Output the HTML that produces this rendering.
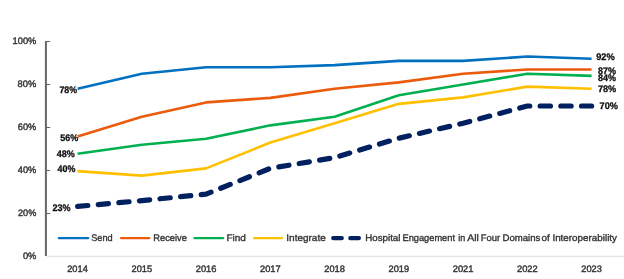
<!DOCTYPE html>
<html><head><meta charset="utf-8"><style>
html,body{margin:0;padding:0;background:#fff;width:624px;height:279px;overflow:hidden}
svg{display:block;will-change:transform;text-rendering:geometricPrecision}
text{font-family:"Liberation Sans", sans-serif;}
.ax{fill:#333;stroke:#333;stroke-width:0.4px}
.lb{font-weight:bold;fill:#111;stroke:#111;stroke-width:0.3px}
.lg{fill:#333;stroke:#333;stroke-width:0.35px}
</style></head><body>
<svg width="624" height="279" viewBox="0 0 624 279">
<line x1="45.9" y1="41.00" x2="45.9" y2="256" stroke="#666" stroke-width="2"/>
<line x1="45" y1="41.50" x2="50.2" y2="41.50" stroke="#666" stroke-width="1.1"/>
<line x1="45" y1="84.50" x2="50.2" y2="84.50" stroke="#666" stroke-width="1.1"/>
<line x1="45" y1="127.50" x2="50.2" y2="127.50" stroke="#666" stroke-width="1.1"/>
<line x1="45" y1="170.50" x2="50.2" y2="170.50" stroke="#666" stroke-width="1.1"/>
<line x1="45" y1="213.50" x2="50.2" y2="213.50" stroke="#666" stroke-width="1.1"/>
<line x1="47" y1="256.3" x2="624" y2="256.3" stroke="#dcdcdc" stroke-width="1"/>
<text class="ax" font-size="9.40" transform="translate(12.55,43.60) scale(0.9941,1)">100%</text>
<text class="ax" font-size="9.40" transform="translate(17.62,86.60) scale(0.9977,1)">80%</text>
<text class="ax" font-size="9.40" transform="translate(17.84,129.60) scale(0.9863,1)">60%</text>
<text class="ax" font-size="9.40" transform="translate(17.81,172.60) scale(0.9875,1)">40%</text>
<text class="ax" font-size="9.40" transform="translate(18.04,215.60) scale(0.9752,1)">20%</text>
<text class="ax" font-size="9.40" transform="translate(22.93,258.60) scale(0.9939,1)">0%</text>
<text class="ax" font-size="9.40" transform="translate(67.23,271.80) scale(0.9843,1)">2014</text>
<text class="ax" font-size="9.40" transform="translate(131.48,271.80) scale(0.9889,1)">2015</text>
<text class="ax" font-size="9.40" transform="translate(195.73,271.80) scale(0.9889,1)">2016</text>
<text class="ax" font-size="9.40" transform="translate(259.98,271.80) scale(0.9936,1)">2017</text>
<text class="ax" font-size="9.40" transform="translate(324.23,271.80) scale(0.9889,1)">2018</text>
<text class="ax" font-size="9.40" transform="translate(388.48,271.80) scale(0.9889,1)">2019</text>
<text class="ax" font-size="9.40" transform="translate(452.73,271.80) scale(0.9936,1)">2021</text>
<text class="ax" font-size="9.40" transform="translate(516.98,271.80) scale(0.9936,1)">2022</text>
<text class="ax" font-size="9.40" transform="translate(581.23,271.80) scale(0.9889,1)">2023</text>
<polyline points="77.59,88.80 141.84,73.75 206.09,67.30 270.35,67.30 334.60,65.15 398.85,60.85 463.10,60.85 527.35,56.55 591.60,58.70" fill="none" stroke="#0070C0" stroke-width="2.6" stroke-linejoin="round"/>
<polyline points="77.59,136.59 141.84,116.75 206.09,102.41 270.35,97.89 334.60,88.80 398.85,82.35 463.10,73.75 527.35,69.45 591.60,69.45" fill="none" stroke="#EC5A0C" stroke-width="2.6" stroke-linejoin="round"/>
<polyline points="77.59,153.79 141.84,144.70 206.09,138.68 270.35,125.35 334.60,116.75 398.85,95.25 463.10,84.50 527.35,73.75 591.60,75.90" fill="none" stroke="#00B050" stroke-width="2.6" stroke-linejoin="round"/>
<polyline points="77.59,171.10 141.84,175.66 206.09,168.35 270.35,142.55 334.60,123.20 398.85,103.85 463.10,97.40 527.35,86.65 591.60,88.80" fill="none" stroke="#FFC000" stroke-width="2.6" stroke-linejoin="round"/>
<polyline points="77.59,206.45 141.84,200.60 206.09,194.15 270.35,168.35 334.60,157.60 398.85,138.25 463.10,123.20 527.35,106.00 591.60,106.00" fill="none" stroke="#002060" stroke-width="5.2" stroke-linecap="round" stroke-linejoin="round" stroke-dasharray="10.3 10.39"/>
<text class="lb" font-size="9.60" transform="translate(59.45,92.50) scale(0.9175,1)">78%</text>
<text class="lb" font-size="9.60" transform="translate(60.23,140.60) scale(0.9396,1)">56%</text>
<text class="lb" font-size="9.60" transform="translate(56.82,156.60) scale(0.9402,1)">48%</text>
<text class="lb" font-size="9.60" transform="translate(57.62,171.60) scale(0.9295,1)">40%</text>
<text class="lb" font-size="9.60" transform="translate(52.53,210.50) scale(0.9396,1)">23%</text>
<text class="lb" font-size="9.60" transform="translate(596.13,60.00) scale(0.9607,1)">92%</text>
<text class="lb" font-size="9.60" transform="translate(598.03,73.70) scale(0.9396,1)">87%</text>
<text class="lb" font-size="9.60" transform="translate(598.03,81.30) scale(0.9396,1)">84%</text>
<text class="lb" font-size="9.60" transform="translate(597.93,91.90) scale(0.9553,1)">78%</text>
<text class="lb" font-size="9.60" transform="translate(599.53,109.10) scale(0.9553,1)">70%</text>
<line x1="58.8" y1="238.1" x2="88.2" y2="238.1" stroke="#0070C0" stroke-width="2.25" stroke-linecap="round"/>
<line x1="121" y1="238.1" x2="149.4" y2="238.1" stroke="#EC5A0C" stroke-width="2.25" stroke-linecap="round"/>
<line x1="194.4" y1="238.1" x2="223.2" y2="238.1" stroke="#00B050" stroke-width="2.25" stroke-linecap="round"/>
<line x1="254" y1="238.1" x2="282.1" y2="238.1" stroke="#FFC000" stroke-width="2.25" stroke-linecap="round"/>
<line x1="333.3" y1="238.1" x2="341.7" y2="238.1" stroke="#002060" stroke-width="4.4" stroke-linecap="round"/>
<line x1="350.4" y1="238.1" x2="358.8" y2="238.1" stroke="#002060" stroke-width="4.4" stroke-linecap="round"/>
<text class="lg" font-size="9.50" transform="translate(91.24,240.50) scale(0.9673,1)">Send</text>
<text class="lg" font-size="9.50" transform="translate(153.26,240.50) scale(0.9802,1)">Receive</text>
<text class="lg" font-size="9.50" transform="translate(226.40,240.50) scale(1.0526,1)">Find</text>
<text class="lg" font-size="9.50" transform="translate(286.30,240.50) scale(1.0526,1)">Integrate</text>
<text class="lg" font-size="9.50" transform="translate(365.32,240.50) scale(1.0223,1)">Hospital</text>
<text class="lg" font-size="9.50" transform="translate(402.46,240.50) scale(0.9753,1)">Engagement</text>
<text class="lg" font-size="9.50" transform="translate(458.28,240.50) scale(0.9375,1)">in</text>
<text class="lg" font-size="9.50" transform="translate(467.20,240.50) scale(1.1028,1)">All</text>
<text class="lg" font-size="9.50" transform="translate(480.74,240.50) scale(0.9936,1)">Four</text>
<text class="lg" font-size="9.50" transform="translate(502.53,240.50) scale(1.0087,1)">Domains</text>
<text class="lg" font-size="9.50" transform="translate(541.61,240.50) scale(1.0393,1)">of</text>
<text class="lg" font-size="9.50" transform="translate(552.41,240.50) scale(1.0364,1)">Interoperability</text>
</svg>
</body></html>
